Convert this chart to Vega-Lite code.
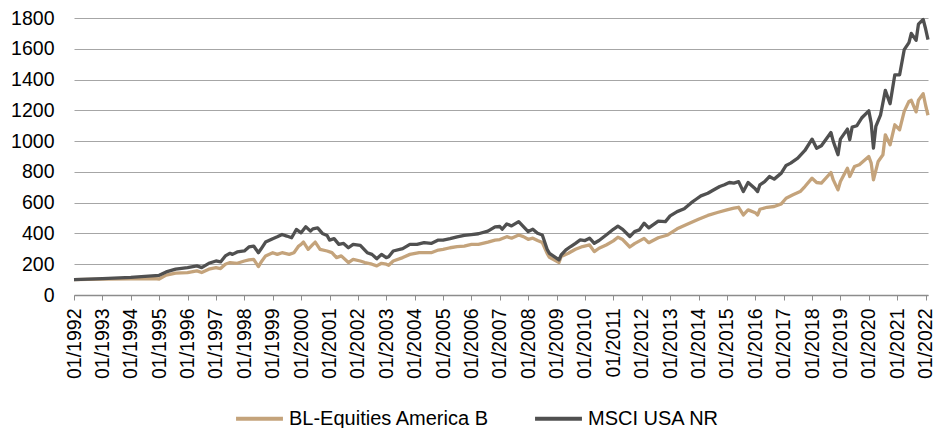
{
  "$schema": "https://vega.github.io/schema/vega-lite/v6.json",
  "width": 854,
  "height": 277,
  "autosize": {"type": "none"},
  "padding": {"left": 74, "top": 18, "right": 16, "bottom": 133},
  "background": "white",
  "config": {
    "view": {"stroke": null},
    "font": "Liberation Sans"
  },
  "data": {
    "values": [
      {"d": "1992-01-01", "s": "BL-Equities America B", "v": 100},
      {"d": "1993-01-01", "s": "BL-Equities America B", "v": 103},
      {"d": "1994-01-01", "s": "BL-Equities America B", "v": 105},
      {"d": "1994-11-01", "s": "BL-Equities America B", "v": 107},
      {"d": "1995-01-01", "s": "BL-Equities America B", "v": 104},
      {"d": "1995-04-01", "s": "BL-Equities America B", "v": 129},
      {"d": "1995-08-01", "s": "BL-Equities America B", "v": 142},
      {"d": "1996-01-01", "s": "BL-Equities America B", "v": 146},
      {"d": "1996-05-01", "s": "BL-Equities America B", "v": 157},
      {"d": "1996-07-01", "s": "BL-Equities America B", "v": 146},
      {"d": "1996-10-01", "s": "BL-Equities America B", "v": 168},
      {"d": "1997-01-01", "s": "BL-Equities America B", "v": 178},
      {"d": "1997-03-01", "s": "BL-Equities America B", "v": 172},
      {"d": "1997-05-01", "s": "BL-Equities America B", "v": 200},
      {"d": "1997-07-01", "s": "BL-Equities America B", "v": 211},
      {"d": "1997-10-01", "s": "BL-Equities America B", "v": 206},
      {"d": "1998-01-01", "s": "BL-Equities America B", "v": 221},
      {"d": "1998-03-01", "s": "BL-Equities America B", "v": 228},
      {"d": "1998-05-01", "s": "BL-Equities America B", "v": 232},
      {"d": "1998-07-01", "s": "BL-Equities America B", "v": 185},
      {"d": "1998-08-01", "s": "BL-Equities America B", "v": 211},
      {"d": "1998-10-01", "s": "BL-Equities America B", "v": 254},
      {"d": "1999-01-01", "s": "BL-Equities America B", "v": 275},
      {"d": "1999-03-01", "s": "BL-Equities America B", "v": 264},
      {"d": "1999-05-01", "s": "BL-Equities America B", "v": 275},
      {"d": "1999-08-01", "s": "BL-Equities America B", "v": 264},
      {"d": "1999-10-01", "s": "BL-Equities America B", "v": 275},
      {"d": "1999-12-01", "s": "BL-Equities America B", "v": 318},
      {"d": "2000-01-01", "s": "BL-Equities America B", "v": 329},
      {"d": "2000-02-01", "s": "BL-Equities America B", "v": 344},
      {"d": "2000-04-01", "s": "BL-Equities America B", "v": 297},
      {"d": "2000-06-01", "s": "BL-Equities America B", "v": 329},
      {"d": "2000-07-01", "s": "BL-Equities America B", "v": 344},
      {"d": "2000-09-01", "s": "BL-Equities America B", "v": 297},
      {"d": "2000-12-01", "s": "BL-Equities America B", "v": 286},
      {"d": "2001-02-01", "s": "BL-Equities America B", "v": 275},
      {"d": "2001-04-01", "s": "BL-Equities America B", "v": 243},
      {"d": "2001-06-01", "s": "BL-Equities America B", "v": 254},
      {"d": "2001-09-01", "s": "BL-Equities America B", "v": 211},
      {"d": "2001-11-01", "s": "BL-Equities America B", "v": 232},
      {"d": "2002-02-01", "s": "BL-Equities America B", "v": 221},
      {"d": "2002-04-01", "s": "BL-Equities America B", "v": 211},
      {"d": "2002-07-01", "s": "BL-Equities America B", "v": 200},
      {"d": "2002-09-01", "s": "BL-Equities America B", "v": 189},
      {"d": "2002-11-01", "s": "BL-Equities America B", "v": 206},
      {"d": "2003-01-01", "s": "BL-Equities America B", "v": 200},
      {"d": "2003-02-01", "s": "BL-Equities America B", "v": 193},
      {"d": "2003-04-01", "s": "BL-Equities America B", "v": 221},
      {"d": "2003-08-01", "s": "BL-Equities America B", "v": 243},
      {"d": "2003-11-01", "s": "BL-Equities America B", "v": 264},
      {"d": "2004-03-01", "s": "BL-Equities America B", "v": 275},
      {"d": "2004-08-01", "s": "BL-Equities America B", "v": 275},
      {"d": "2004-11-01", "s": "BL-Equities America B", "v": 292},
      {"d": "2005-01-01", "s": "BL-Equities America B", "v": 297},
      {"d": "2005-04-01", "s": "BL-Equities America B", "v": 307},
      {"d": "2005-07-01", "s": "BL-Equities America B", "v": 314},
      {"d": "2005-10-01", "s": "BL-Equities America B", "v": 318},
      {"d": "2006-01-01", "s": "BL-Equities America B", "v": 329},
      {"d": "2006-04-01", "s": "BL-Equities America B", "v": 329},
      {"d": "2006-08-01", "s": "BL-Equities America B", "v": 344},
      {"d": "2006-11-01", "s": "BL-Equities America B", "v": 357},
      {"d": "2007-01-01", "s": "BL-Equities America B", "v": 360},
      {"d": "2007-04-01", "s": "BL-Equities America B", "v": 379},
      {"d": "2007-06-01", "s": "BL-Equities America B", "v": 369},
      {"d": "2007-09-01", "s": "BL-Equities America B", "v": 390},
      {"d": "2007-11-01", "s": "BL-Equities America B", "v": 379},
      {"d": "2008-01-01", "s": "BL-Equities America B", "v": 362},
      {"d": "2008-03-01", "s": "BL-Equities America B", "v": 369},
      {"d": "2008-05-01", "s": "BL-Equities America B", "v": 354},
      {"d": "2008-07-01", "s": "BL-Equities America B", "v": 341},
      {"d": "2008-09-01", "s": "BL-Equities America B", "v": 271},
      {"d": "2008-10-01", "s": "BL-Equities America B", "v": 245},
      {"d": "2009-02-01", "s": "BL-Equities America B", "v": 211},
      {"d": "2009-03-01", "s": "BL-Equities America B", "v": 250},
      {"d": "2009-06-01", "s": "BL-Equities America B", "v": 271},
      {"d": "2009-09-01", "s": "BL-Equities America B", "v": 297},
      {"d": "2009-12-01", "s": "BL-Equities America B", "v": 315},
      {"d": "2010-03-01", "s": "BL-Equities America B", "v": 325},
      {"d": "2010-05-01", "s": "BL-Equities America B", "v": 282},
      {"d": "2010-07-01", "s": "BL-Equities America B", "v": 304},
      {"d": "2010-10-01", "s": "BL-Equities America B", "v": 325},
      {"d": "2011-01-01", "s": "BL-Equities America B", "v": 352},
      {"d": "2011-03-01", "s": "BL-Equities America B", "v": 375},
      {"d": "2011-05-01", "s": "BL-Equities America B", "v": 360},
      {"d": "2011-08-01", "s": "BL-Equities America B", "v": 312},
      {"d": "2011-10-01", "s": "BL-Equities America B", "v": 334},
      {"d": "2012-02-01", "s": "BL-Equities America B", "v": 368},
      {"d": "2012-04-01", "s": "BL-Equities America B", "v": 340},
      {"d": "2012-08-01", "s": "BL-Equities America B", "v": 372},
      {"d": "2012-12-01", "s": "BL-Equities America B", "v": 390},
      {"d": "2013-04-01", "s": "BL-Equities America B", "v": 430},
      {"d": "2013-08-01", "s": "BL-Equities America B", "v": 458},
      {"d": "2014-01-01", "s": "BL-Equities America B", "v": 492},
      {"d": "2014-05-01", "s": "BL-Equities America B", "v": 517},
      {"d": "2014-09-01", "s": "BL-Equities America B", "v": 536},
      {"d": "2015-01-01", "s": "BL-Equities America B", "v": 553},
      {"d": "2015-04-01", "s": "BL-Equities America B", "v": 564},
      {"d": "2015-06-01", "s": "BL-Equities America B", "v": 570},
      {"d": "2015-08-01", "s": "BL-Equities America B", "v": 520},
      {"d": "2015-10-01", "s": "BL-Equities America B", "v": 553},
      {"d": "2016-01-01", "s": "BL-Equities America B", "v": 535},
      {"d": "2016-02-01", "s": "BL-Equities America B", "v": 520},
      {"d": "2016-03-01", "s": "BL-Equities America B", "v": 557},
      {"d": "2016-06-01", "s": "BL-Equities America B", "v": 570},
      {"d": "2016-09-01", "s": "BL-Equities America B", "v": 575},
      {"d": "2016-12-01", "s": "BL-Equities America B", "v": 592},
      {"d": "2017-02-01", "s": "BL-Equities America B", "v": 629},
      {"d": "2017-05-01", "s": "BL-Equities America B", "v": 651},
      {"d": "2017-08-01", "s": "BL-Equities America B", "v": 672},
      {"d": "2017-10-01", "s": "BL-Equities America B", "v": 705},
      {"d": "2018-01-01", "s": "BL-Equities America B", "v": 759},
      {"d": "2018-03-01", "s": "BL-Equities America B", "v": 731},
      {"d": "2018-05-01", "s": "BL-Equities America B", "v": 727},
      {"d": "2018-09-01", "s": "BL-Equities America B", "v": 796},
      {"d": "2018-10-01", "s": "BL-Equities America B", "v": 748},
      {"d": "2018-12-01", "s": "BL-Equities America B", "v": 683},
      {"d": "2019-01-01", "s": "BL-Equities America B", "v": 737},
      {"d": "2019-04-01", "s": "BL-Equities America B", "v": 824},
      {"d": "2019-05-01", "s": "BL-Equities America B", "v": 770},
      {"d": "2019-07-01", "s": "BL-Equities America B", "v": 835},
      {"d": "2019-09-01", "s": "BL-Equities America B", "v": 846},
      {"d": "2020-01-01", "s": "BL-Equities America B", "v": 900},
      {"d": "2020-02-01", "s": "BL-Equities America B", "v": 857},
      {"d": "2020-03-01", "s": "BL-Equities America B", "v": 748},
      {"d": "2020-05-01", "s": "BL-Equities America B", "v": 868},
      {"d": "2020-07-01", "s": "BL-Equities America B", "v": 911},
      {"d": "2020-08-01", "s": "BL-Equities America B", "v": 1041},
      {"d": "2020-10-01", "s": "BL-Equities America B", "v": 976},
      {"d": "2020-12-01", "s": "BL-Equities America B", "v": 1106},
      {"d": "2021-02-01", "s": "BL-Equities America B", "v": 1074},
      {"d": "2021-04-01", "s": "BL-Equities America B", "v": 1193},
      {"d": "2021-06-01", "s": "BL-Equities America B", "v": 1258},
      {"d": "2021-07-01", "s": "BL-Equities America B", "v": 1265},
      {"d": "2021-09-01", "s": "BL-Equities America B", "v": 1190},
      {"d": "2021-10-01", "s": "BL-Equities America B", "v": 1265},
      {"d": "2021-12-01", "s": "BL-Equities America B", "v": 1308},
      {"d": "2022-01-01", "s": "BL-Equities America B", "v": 1233},
      {"d": "2022-02-01", "s": "BL-Equities America B", "v": 1168},
      {"d": "1992-01-01", "s": "MSCI USA NR", "v": 100},
      {"d": "1993-01-01", "s": "MSCI USA NR", "v": 106},
      {"d": "1994-01-01", "s": "MSCI USA NR", "v": 114},
      {"d": "1994-10-01", "s": "MSCI USA NR", "v": 124},
      {"d": "1995-01-01", "s": "MSCI USA NR", "v": 128},
      {"d": "1995-04-01", "s": "MSCI USA NR", "v": 150},
      {"d": "1995-08-01", "s": "MSCI USA NR", "v": 168},
      {"d": "1996-01-01", "s": "MSCI USA NR", "v": 178},
      {"d": "1996-05-01", "s": "MSCI USA NR", "v": 189},
      {"d": "1996-07-01", "s": "MSCI USA NR", "v": 178},
      {"d": "1996-10-01", "s": "MSCI USA NR", "v": 206},
      {"d": "1997-01-01", "s": "MSCI USA NR", "v": 221},
      {"d": "1997-03-01", "s": "MSCI USA NR", "v": 215},
      {"d": "1997-05-01", "s": "MSCI USA NR", "v": 254},
      {"d": "1997-07-01", "s": "MSCI USA NR", "v": 271},
      {"d": "1997-08-01", "s": "MSCI USA NR", "v": 264},
      {"d": "1997-10-01", "s": "MSCI USA NR", "v": 280},
      {"d": "1998-01-01", "s": "MSCI USA NR", "v": 286},
      {"d": "1998-03-01", "s": "MSCI USA NR", "v": 312},
      {"d": "1998-05-01", "s": "MSCI USA NR", "v": 318},
      {"d": "1998-07-01", "s": "MSCI USA NR", "v": 275},
      {"d": "1998-08-01", "s": "MSCI USA NR", "v": 297},
      {"d": "1998-10-01", "s": "MSCI USA NR", "v": 344},
      {"d": "1999-01-01", "s": "MSCI USA NR", "v": 366},
      {"d": "1999-03-01", "s": "MSCI USA NR", "v": 378},
      {"d": "1999-05-01", "s": "MSCI USA NR", "v": 393},
      {"d": "1999-07-01", "s": "MSCI USA NR", "v": 383},
      {"d": "1999-09-01", "s": "MSCI USA NR", "v": 372},
      {"d": "1999-11-01", "s": "MSCI USA NR", "v": 426},
      {"d": "2000-01-01", "s": "MSCI USA NR", "v": 404},
      {"d": "2000-03-01", "s": "MSCI USA NR", "v": 443},
      {"d": "2000-05-01", "s": "MSCI USA NR", "v": 415},
      {"d": "2000-06-01", "s": "MSCI USA NR", "v": 430},
      {"d": "2000-08-01", "s": "MSCI USA NR", "v": 436},
      {"d": "2000-10-01", "s": "MSCI USA NR", "v": 400},
      {"d": "2000-12-01", "s": "MSCI USA NR", "v": 387},
      {"d": "2001-01-01", "s": "MSCI USA NR", "v": 357},
      {"d": "2001-03-01", "s": "MSCI USA NR", "v": 366},
      {"d": "2001-05-01", "s": "MSCI USA NR", "v": 329},
      {"d": "2001-07-01", "s": "MSCI USA NR", "v": 335},
      {"d": "2001-09-01", "s": "MSCI USA NR", "v": 307},
      {"d": "2001-11-01", "s": "MSCI USA NR", "v": 329},
      {"d": "2002-02-01", "s": "MSCI USA NR", "v": 322},
      {"d": "2002-05-01", "s": "MSCI USA NR", "v": 275},
      {"d": "2002-07-01", "s": "MSCI USA NR", "v": 264},
      {"d": "2002-09-01", "s": "MSCI USA NR", "v": 236},
      {"d": "2002-11-01", "s": "MSCI USA NR", "v": 264},
      {"d": "2003-01-01", "s": "MSCI USA NR", "v": 243},
      {"d": "2003-02-01", "s": "MSCI USA NR", "v": 249},
      {"d": "2003-04-01", "s": "MSCI USA NR", "v": 286},
      {"d": "2003-08-01", "s": "MSCI USA NR", "v": 301},
      {"d": "2003-11-01", "s": "MSCI USA NR", "v": 329},
      {"d": "2004-02-01", "s": "MSCI USA NR", "v": 329},
      {"d": "2004-05-01", "s": "MSCI USA NR", "v": 340},
      {"d": "2004-08-01", "s": "MSCI USA NR", "v": 335},
      {"d": "2004-11-01", "s": "MSCI USA NR", "v": 357},
      {"d": "2005-01-01", "s": "MSCI USA NR", "v": 357},
      {"d": "2005-04-01", "s": "MSCI USA NR", "v": 366},
      {"d": "2005-07-01", "s": "MSCI USA NR", "v": 378},
      {"d": "2005-10-01", "s": "MSCI USA NR", "v": 387},
      {"d": "2006-01-01", "s": "MSCI USA NR", "v": 393},
      {"d": "2006-04-01", "s": "MSCI USA NR", "v": 398},
      {"d": "2006-08-01", "s": "MSCI USA NR", "v": 415},
      {"d": "2006-11-01", "s": "MSCI USA NR", "v": 443},
      {"d": "2007-01-01", "s": "MSCI USA NR", "v": 445},
      {"d": "2007-02-01", "s": "MSCI USA NR", "v": 427},
      {"d": "2007-04-01", "s": "MSCI USA NR", "v": 462},
      {"d": "2007-06-01", "s": "MSCI USA NR", "v": 449},
      {"d": "2007-09-01", "s": "MSCI USA NR", "v": 477},
      {"d": "2007-11-01", "s": "MSCI USA NR", "v": 444},
      {"d": "2008-01-01", "s": "MSCI USA NR", "v": 412},
      {"d": "2008-03-01", "s": "MSCI USA NR", "v": 427},
      {"d": "2008-05-01", "s": "MSCI USA NR", "v": 401},
      {"d": "2008-07-01", "s": "MSCI USA NR", "v": 390},
      {"d": "2008-09-01", "s": "MSCI USA NR", "v": 297},
      {"d": "2008-10-01", "s": "MSCI USA NR", "v": 271},
      {"d": "2009-02-01", "s": "MSCI USA NR", "v": 228},
      {"d": "2009-03-01", "s": "MSCI USA NR", "v": 260},
      {"d": "2009-05-01", "s": "MSCI USA NR", "v": 293},
      {"d": "2009-07-01", "s": "MSCI USA NR", "v": 315},
      {"d": "2009-09-01", "s": "MSCI USA NR", "v": 336},
      {"d": "2009-11-01", "s": "MSCI USA NR", "v": 358},
      {"d": "2010-01-01", "s": "MSCI USA NR", "v": 354},
      {"d": "2010-03-01", "s": "MSCI USA NR", "v": 369},
      {"d": "2010-05-01", "s": "MSCI USA NR", "v": 336},
      {"d": "2010-07-01", "s": "MSCI USA NR", "v": 354},
      {"d": "2010-10-01", "s": "MSCI USA NR", "v": 390},
      {"d": "2011-01-01", "s": "MSCI USA NR", "v": 427},
      {"d": "2011-03-01", "s": "MSCI USA NR", "v": 447},
      {"d": "2011-05-01", "s": "MSCI USA NR", "v": 427},
      {"d": "2011-08-01", "s": "MSCI USA NR", "v": 380},
      {"d": "2011-10-01", "s": "MSCI USA NR", "v": 412},
      {"d": "2011-12-01", "s": "MSCI USA NR", "v": 423},
      {"d": "2012-02-01", "s": "MSCI USA NR", "v": 466},
      {"d": "2012-04-01", "s": "MSCI USA NR", "v": 436},
      {"d": "2012-08-01", "s": "MSCI USA NR", "v": 480},
      {"d": "2012-11-01", "s": "MSCI USA NR", "v": 477},
      {"d": "2013-01-01", "s": "MSCI USA NR", "v": 514},
      {"d": "2013-04-01", "s": "MSCI USA NR", "v": 542},
      {"d": "2013-07-01", "s": "MSCI USA NR", "v": 560},
      {"d": "2013-10-01", "s": "MSCI USA NR", "v": 600},
      {"d": "2013-12-01", "s": "MSCI USA NR", "v": 622},
      {"d": "2014-02-01", "s": "MSCI USA NR", "v": 644},
      {"d": "2014-05-01", "s": "MSCI USA NR", "v": 661},
      {"d": "2014-07-01", "s": "MSCI USA NR", "v": 679},
      {"d": "2014-10-01", "s": "MSCI USA NR", "v": 705},
      {"d": "2014-12-01", "s": "MSCI USA NR", "v": 716},
      {"d": "2015-02-01", "s": "MSCI USA NR", "v": 731},
      {"d": "2015-04-01", "s": "MSCI USA NR", "v": 727},
      {"d": "2015-06-01", "s": "MSCI USA NR", "v": 737},
      {"d": "2015-08-01", "s": "MSCI USA NR", "v": 672},
      {"d": "2015-10-01", "s": "MSCI USA NR", "v": 731},
      {"d": "2016-01-01", "s": "MSCI USA NR", "v": 690},
      {"d": "2016-02-01", "s": "MSCI USA NR", "v": 672},
      {"d": "2016-03-01", "s": "MSCI USA NR", "v": 716},
      {"d": "2016-05-01", "s": "MSCI USA NR", "v": 737},
      {"d": "2016-07-01", "s": "MSCI USA NR", "v": 770},
      {"d": "2016-09-01", "s": "MSCI USA NR", "v": 753},
      {"d": "2016-12-01", "s": "MSCI USA NR", "v": 792},
      {"d": "2017-02-01", "s": "MSCI USA NR", "v": 842},
      {"d": "2017-04-01", "s": "MSCI USA NR", "v": 857},
      {"d": "2017-07-01", "s": "MSCI USA NR", "v": 889},
      {"d": "2017-10-01", "s": "MSCI USA NR", "v": 939},
      {"d": "2018-01-01", "s": "MSCI USA NR", "v": 1013},
      {"d": "2018-03-01", "s": "MSCI USA NR", "v": 954},
      {"d": "2018-05-01", "s": "MSCI USA NR", "v": 970},
      {"d": "2018-09-01", "s": "MSCI USA NR", "v": 1056},
      {"d": "2018-10-01", "s": "MSCI USA NR", "v": 998},
      {"d": "2018-12-01", "s": "MSCI USA NR", "v": 911},
      {"d": "2019-01-01", "s": "MSCI USA NR", "v": 1013},
      {"d": "2019-04-01", "s": "MSCI USA NR", "v": 1078},
      {"d": "2019-05-01", "s": "MSCI USA NR", "v": 1009},
      {"d": "2019-06-01", "s": "MSCI USA NR", "v": 1091},
      {"d": "2019-08-01", "s": "MSCI USA NR", "v": 1100},
      {"d": "2019-10-01", "s": "MSCI USA NR", "v": 1150},
      {"d": "2020-01-01", "s": "MSCI USA NR", "v": 1197},
      {"d": "2020-02-01", "s": "MSCI USA NR", "v": 1117},
      {"d": "2020-03-01", "s": "MSCI USA NR", "v": 954},
      {"d": "2020-04-01", "s": "MSCI USA NR", "v": 1095},
      {"d": "2020-06-01", "s": "MSCI USA NR", "v": 1171},
      {"d": "2020-08-01", "s": "MSCI USA NR", "v": 1330},
      {"d": "2020-10-01", "s": "MSCI USA NR", "v": 1243},
      {"d": "2020-12-01", "s": "MSCI USA NR", "v": 1431},
      {"d": "2021-02-01", "s": "MSCI USA NR", "v": 1431},
      {"d": "2021-04-01", "s": "MSCI USA NR", "v": 1594},
      {"d": "2021-06-01", "s": "MSCI USA NR", "v": 1640},
      {"d": "2021-07-01", "s": "MSCI USA NR", "v": 1700},
      {"d": "2021-09-01", "s": "MSCI USA NR", "v": 1655},
      {"d": "2021-10-01", "s": "MSCI USA NR", "v": 1760},
      {"d": "2021-12-01", "s": "MSCI USA NR", "v": 1790},
      {"d": "2022-01-01", "s": "MSCI USA NR", "v": 1730},
      {"d": "2022-02-01", "s": "MSCI USA NR", "v": 1660}
    ]
  },
  "mark": {"type": "line", "strokeWidth": 3.3, "strokeJoin": "round"},
  "encoding": {
    "x": {
      "field": "d",
      "type": "temporal",
      "axis": {
        "title": null,
        "format": "%m/%Y",
        "tickCount": {"interval": "year", "step": 1},
        "labelAngle": -90,
        "labelFontSize": 19.5,
        "labelColor": "#000000",
        "labelPadding": 8,
        "labelOverlap": false,
        "labelFlush": false,
        "grid": false,
        "domainColor": "#8c8c8c",
        "domainWidth": 1.5,
        "tickColor": "#8c8c8c",
        "tickWidth": 1,
        "tickSize": 5
      }
    },
    "y": {
      "field": "v",
      "type": "quantitative",
      "scale": {"domain": [0, 1800], "nice": false},
      "axis": {
        "title": null,
        "format": "d",
        "values": [0, 200, 400, 600, 800, 1000, 1200, 1400, 1600, 1800],
        "labelFontSize": 19.5,
        "labelColor": "#000000",
        "labelPadding": 20,
        "domain": false,
        "ticks": false,
        "tickSize": 0,
        "gridColor": "#a6a6a6",
        "gridWidth": 1.2
      }
    },
    "color": {
      "field": "s",
      "type": "nominal",
      "scale": {
        "domain": ["BL-Equities America B", "MSCI USA NR"],
        "range": ["#c4a37b", "#505050"]
      },
      "legend": {
        "title": null,
        "orient": "none",
        "legendX": 160,
        "legendY": 375,
        "direction": "horizontal",
        "symbolType": "stroke",
        "symbolStrokeWidth": 4,
        "symbolSize": 2200,
        "labelFontSize": 20,
        "labelLimit": 400,
        "labelColor": "#000000",
        "labelOffset": 4,
        "columnPadding": 37
      }
    }
  }
}
